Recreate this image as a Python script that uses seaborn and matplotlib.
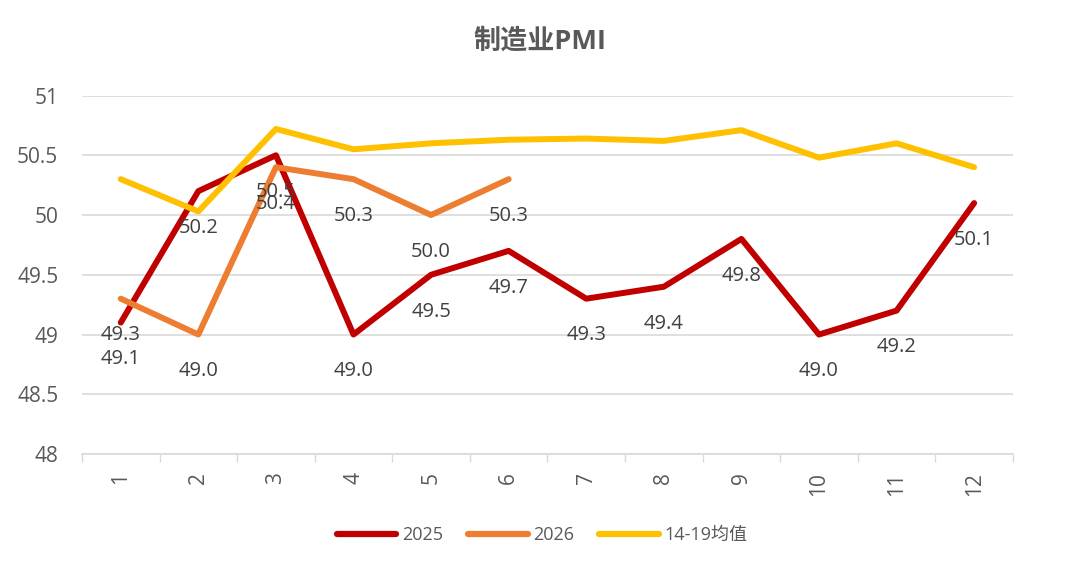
import pandas as pd
import matplotlib
matplotlib.use('Agg')
import matplotlib.pyplot as plt
import seaborn as sns

# ---- data ----
months = list(range(1, 13))
pmi_2025 = [49.1, 50.2, 50.5, 49.0, 49.5, 49.7, 49.3, 49.4, 49.8, 49.0, 49.2, 50.1]
pmi_2026 = [49.3, 49.0, 50.4, 50.3, 50.0, 50.3]
avg_14_19 = [50.3, 50.03, 50.72, 50.55, 50.6, 50.63, 50.64, 50.62, 50.71, 50.48, 50.6, 50.4]
series_names = ['2025', '2026', '14-19均值']
colors = ['#C00000', '#ED7D31', '#FFC000']
y_ticks = [48, 48.5, 49, 49.5, 50, 50.5, 51]
y_tick_labels = ['48', '48.5', '49', '49.5', '50', '50.5', '51']

df = pd.concat([
    pd.DataFrame({'month': months, 'value': pmi_2025, 'series': series_names[0]}),
    pd.DataFrame({'month': months[:len(pmi_2026)], 'value': pmi_2026, 'series': series_names[1]}),
    pd.DataFrame({'month': months, 'value': avg_14_19, 'series': series_names[2]}),
])

sns.set_theme(style='white')
plt.rcParams['font.family'] = ['Open Sans', 'Noto Sans CJK SC', 'DejaVu Sans']

fig = plt.figure(figsize=(10.8, 5.74), dpi=100)
ax = fig.add_axes([0.0759, 0.209, 0.862, 0.6246])

sns.lineplot(data=df, x='month', y='value', hue='series', hue_order=series_names,
             palette=dict(zip(series_names, colors)), linewidth=4.3, ax=ax,
             solid_capstyle='round', sort=False)

# data labels below the points for the two actual series
label_color = '#404040'
for vals in [pmi_2025, pmi_2026]:
    for m, v in zip(months, vals):
        ax.annotate(f'{v:.1f}', (m, v), xytext=(0, -26.5), textcoords='offset points',
                    ha='center', va='center', fontsize=14.5, color=label_color)

# axes styling
ax.set_xlim(0.5, 12.5)
ax.set_ylim(48, 51)
ax.set_yticks(y_ticks)
ax.set_yticklabels(y_tick_labels)
ax.set_xticks(months)
ax.set_xticklabels([str(m) for m in months], rotation=90, va='top')
ax.set_xticks([m + 0.5 for m in range(0, 13)], minor=True)
ax.tick_params(axis='x', which='major', length=0, pad=13, labelsize=15, colors='#595959')
ax.tick_params(axis='x', which='minor', length=6, width=1, color='#D9D9D9', bottom=True)
ax.tick_params(axis='y', length=0, pad=17, labelsize=15, colors='#595959')
ax.grid(axis='y', color='#D9D9D9', linewidth=1.2)
ax.set_axisbelow(True)
for side in ['top', 'right', 'left']:
    ax.spines[side].set_visible(False)
ax.spines['bottom'].set_color('#D9D9D9')
ax.spines['bottom'].set_linewidth(1.2)
ax.set_xlabel('')
ax.set_ylabel('')

fig.text(0.5, 0.928, '制造业PMI', ha='center', va='center', fontsize=19.5,
         fontweight='bold', color='#595959')

handles, labels = ax.get_legend_handles_labels()
ax.get_legend().remove()
leg = fig.legend(handles, labels, loc='center', bbox_to_anchor=(0.502, 0.068), ncol=3,
                 frameon=False, fontsize=13, handlelength=3.3, handletextpad=0.3,
                 columnspacing=1.4, labelcolor='#595959')
for line in leg.get_lines():
    line.set_linewidth(4.5)
    line.set_solid_capstyle('round')

fig.savefig('out.png', dpi=100)
